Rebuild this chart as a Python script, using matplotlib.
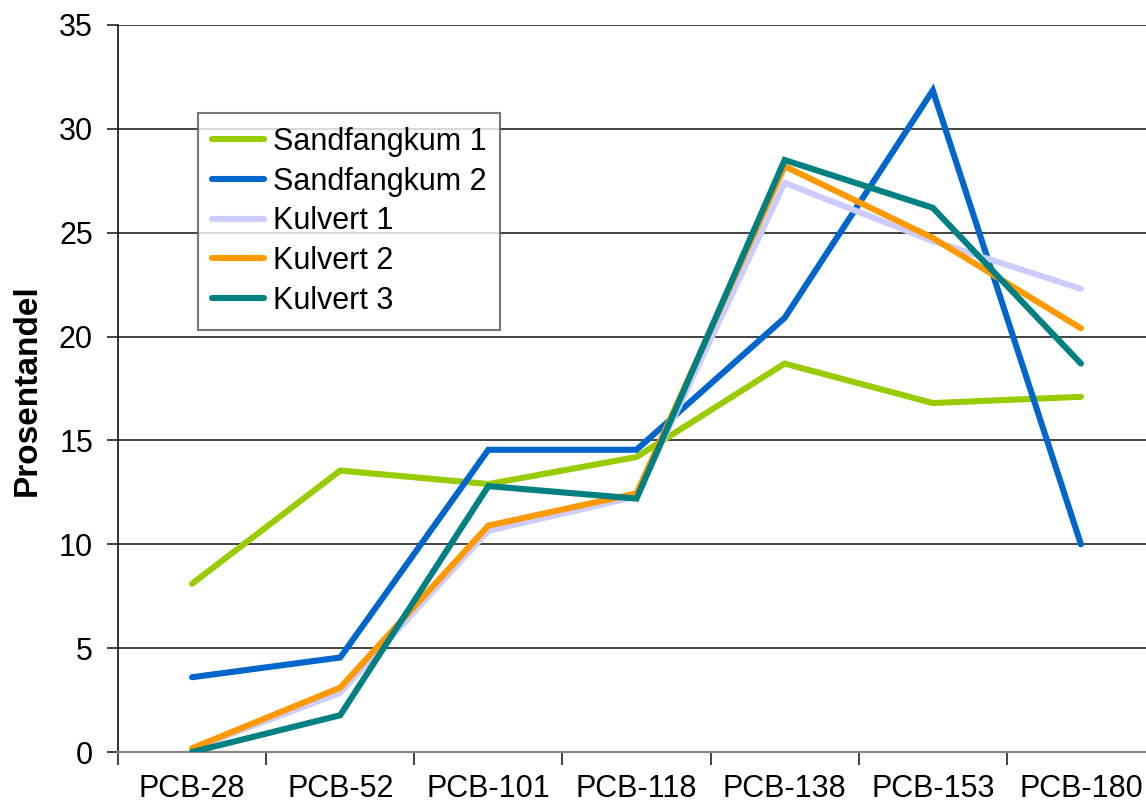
import matplotlib.pyplot as plt

plt.rcParams['font.family'] = ['Liberation Sans', 'DejaVu Sans']

categories = ['PCB-28', 'PCB-52', 'PCB-101', 'PCB-118', 'PCB-138', 'PCB-153', 'PCB-180']

sandfangkum_1 = [8.1, 13.55, 12.9, 14.2, 18.7, 16.8, 17.1]
sandfangkum_2 = [3.6, 4.55, 14.55, 14.55, 20.9, 31.85, 10.0]
kulvert_1 = [0.15, 2.85, 10.65, 12.3, 27.4, 24.6, 22.3]
kulvert_2 = [0.18, 3.1, 10.9, 12.45, 28.2, 24.75, 20.4]
kulvert_3 = [0.0, 1.77, 12.8, 12.2, 28.5, 26.2, 18.7]

series = [
    ('Sandfangkum 1', sandfangkum_1, '#99CC00'),
    ('Sandfangkum 2', sandfangkum_2, '#0066CC'),
    ('Kulvert 1', kulvert_1, '#CCCCFF'),
    ('Kulvert 2', kulvert_2, '#FF9900'),
    ('Kulvert 3', kulvert_3, '#008080'),
]

fig = plt.figure(figsize=(11.46, 8.07), dpi=100)
W, H = 1146, 807
# plot area runs past the right edge of the canvas
left, right, top, bottom = 118, 1155, 25, 752
ax = fig.add_axes([left / W, 1 - bottom / H, (right - left) / W, (bottom - top) / H])

x = list(range(len(categories)))
for name, vals, col in series:
    ax.plot(x, vals, color=col, lw=4.4, label=name, solid_capstyle='round',
            solid_joinstyle='miter', zorder=3)

ax.set_xlim(-0.5, len(categories) - 0.5)
ax.set_ylim(0, 35)
ax.set_yticks(range(0, 36, 5))
ax.yaxis.grid(True, color='#222222', lw=1.2)
ax.set_axisbelow(True)

ax.set_xticks([i - 0.5 for i in range(len(categories) + 1)])
ax.set_xticklabels([])
ax.set_xticks(x, minor=True)
ax.set_xticklabels(categories, minor=True)
ax.tick_params(axis='x', which='major', direction='out', length=9, width=1.2, color='#222222')
ax.tick_params(axis='x', which='minor', length=0, pad=16, labelsize=22)
ax.tick_params(axis='y', direction='out', length=8, width=1.2, color='#222222',
               labelsize=22, pad=10)

for side in ['top', 'right']:
    ax.spines[side].set_visible(False)
ax.spines['left'].set_color('#111111')
ax.spines['left'].set_linewidth(1.2)
ax.spines['bottom'].set_color('#888888')
ax.spines['bottom'].set_linewidth(1.6)

fig.text(27 / W, 1 - 390 / H, 'Prosentandel', rotation=90, ha='center', va='center',
         fontsize=24, fontweight='bold')

leg = ax.legend(loc='upper left', bbox_to_anchor=((198 - left) / (right - left), (bottom - 113) / (bottom - top)),
                fontsize=22, frameon=True, fancybox=False, handlelength=1.7,
                handletextpad=0.3, labelspacing=0.32, borderpad=0.45, borderaxespad=0)
leg.get_frame().set_edgecolor('#555555')
leg.get_frame().set_linewidth(1.5)
for h in leg.get_lines():
    h.set_linewidth(4.4)

fig.savefig('out.png', dpi=100)
